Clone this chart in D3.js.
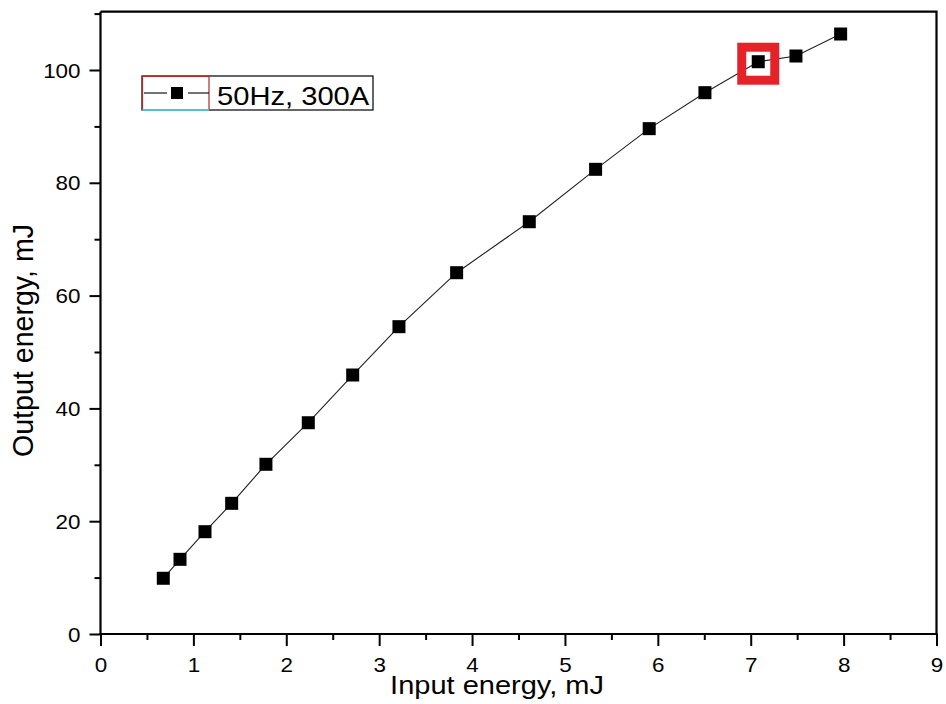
<!DOCTYPE html>
<html>
<head>
<meta charset="utf-8">
<script src="https://cdn.jsdelivr.net/npm/d3@7"></script>
<style>
  html, body { margin: 0; padding: 0; background: #fff; }
  svg { display: block; }
  text { font-family: Arial, "Liberation Sans", sans-serif; fill: #000; }
</style>
</head>
<body>
<svg id="chart" width="946" height="704"></svg>
<script>
// Output energy vs input energy (50 Hz, 300 A)
const inputEnergy  = [0.676, 0.856, 1.125, 1.412, 1.781, 2.237, 2.715, 3.213, 3.834, 4.616, 5.330, 5.907, 6.507, 7.081, 7.487, 7.968];
const outputEnergy = [9.88, 13.24, 18.14, 23.17, 30.09, 37.46, 45.92, 54.49, 64.06, 73.10, 82.39, 89.60, 95.98, 101.47, 102.48, 106.38];
const xMajorTicks = [0, 1, 2, 3, 4, 5, 6, 7, 8, 9];
const xMinorTicks = [0.5, 1.5, 2.5, 3.5, 4.5, 5.5, 6.5, 7.5, 8.5];
const yMajorTicks = [0, 20, 40, 60, 80, 100];
const yMinorTicks = [10, 30, 50, 70, 90, 110];
const seriesName = "50Hz, 300A";
const xTitle = "Input energy, mJ";
const yTitle = "Output energy, mJ";
const highlightIndex = 13;

const data = inputEnergy.map((v, i) => ({ x: v, y: outputEnergy[i] }));

const svg = d3.select("#chart");
const plotLeft = 100.5, plotRight = 936.5, plotBottom = 634, plotTop = 11.7;

const x = d3.scaleLinear().domain([0, 9]).range([plotLeft, plotRight]);
const y = d3.scaleLinear().domain([0, 100]).range([plotBottom, 70]);
const yMax = y.invert(plotTop);
y.domain([0, yMax]).range([plotBottom, plotTop]);

// frame (top and right edges)
svg.append("path")
  .attr("d", `M${plotLeft},${plotTop}H${plotRight}V${plotBottom}`)
  .attr("fill", "none").attr("stroke", "#000").attr("stroke-width", 2.2);

// bottom axis: minor then major ticks
const gxMin = svg.append("g").attr("transform", `translate(0,${plotBottom})`)
  .call(d3.axisBottom(x).tickValues(xMinorTicks).tickSize(6).tickFormat(""));
gxMin.select(".domain").remove();
gxMin.selectAll(".tick line").attr("stroke-width", 2);

const gxMaj = svg.append("g").attr("transform", `translate(0,${plotBottom})`)
  .call(d3.axisBottom(x).tickValues(xMajorTicks).tickSize(12).tickFormat(d3.format("d")));
gxMaj.select(".domain").remove();
gxMaj.selectAll(".tick line").attr("stroke-width", 2);
gxMaj.selectAll(".tick text")
  .attr("font-size", 20).attr("font-family", "Arial, 'Liberation Sans', sans-serif")
  .attr("dy", null).attr("y", 38).attr("x", 0)
  .attr("transform", "scale(1.12,1)");

// left axis: minor then major ticks
const gyMin = svg.append("g").attr("transform", `translate(${plotLeft},0)`)
  .call(d3.axisLeft(y).tickValues(yMinorTicks).tickSize(6).tickFormat(""));
gyMin.select(".domain").remove();
gyMin.selectAll(".tick line").attr("stroke-width", 2);

const gyMaj = svg.append("g").attr("transform", `translate(${plotLeft},0)`)
  .call(d3.axisLeft(y).tickValues(yMajorTicks).tickSize(11).tickFormat(d3.format("d")));
gyMaj.select(".domain").remove();
gyMaj.selectAll(".tick line").attr("stroke-width", 2);
gyMaj.selectAll(".tick text")
  .attr("font-size", 20).attr("font-family", "Arial, 'Liberation Sans', sans-serif")
  .attr("dy", "0.35em").attr("x", 0)
  .attr("transform", "translate(-20,0) scale(1.12,1)");

// axis lines
svg.append("line").attr("x1", plotLeft).attr("x2", plotLeft).attr("y1", plotTop).attr("y2", plotBottom + 1)
  .attr("stroke", "#000").attr("stroke-width", 2.2);
svg.append("line").attr("x1", plotLeft - 1).attr("x2", plotRight + 1).attr("y1", plotBottom).attr("y2", plotBottom)
  .attr("stroke", "#000").attr("stroke-width", 2.2);

// axis titles
svg.append("text")
  .attr("transform", "translate(497,694) scale(1.16,1)")
  .attr("text-anchor", "middle").attr("font-size", 25).text(xTitle);
svg.append("text")
  .attr("transform", "translate(33,340.5) rotate(-90)")
  .attr("text-anchor", "middle").attr("font-size", 28.6).text(yTitle);

// connecting line
svg.append("path").datum(data)
  .attr("d", d3.line().x(d => x(d.x)).y(d => y(d.y)))
  .attr("fill", "none").attr("stroke", "#222").attr("stroke-width", 1.1);

// markers
const ms = 13;
svg.append("g").selectAll("rect").data(data).join("rect")
  .attr("x", d => x(d.x) - ms / 2).attr("y", d => y(d.y) - ms / 2)
  .attr("width", ms).attr("height", ms).attr("fill", "#000");

// highlight box around one measurement
const hp = data[highlightIndex];
svg.append("rect")
  .attr("x", x(hp.x) - 16.5).attr("y", y(hp.y) - 14.5)
  .attr("width", 33).attr("height", 33)
  .attr("fill", "none").attr("stroke", "#e52228").attr("stroke-width", 9);

// legend
const lg = svg.append("g");
lg.append("rect").attr("x", 142).attr("y", 76).attr("width", 231).attr("height", 34)
  .attr("fill", "#fff").attr("stroke", "#000").attr("stroke-width", 1.2);
lg.append("path").attr("d", "M142.5,110V76.5H209V110")
  .attr("fill", "none").attr("stroke", "#b02a2a").attr("stroke-width", 1.2);
lg.append("line").attr("x1", 142.5).attr("x2", 209).attr("y1", 110).attr("y2", 110)
  .attr("stroke", "#4fe0e6").attr("stroke-width", 1.4);
lg.append("line").attr("x1", 144).attr("x2", 167).attr("y1", 93).attr("y2", 93)
  .attr("stroke", "#000").attr("stroke-width", 1.1);
lg.append("line").attr("x1", 188).attr("x2", 209).attr("y1", 93).attr("y2", 93)
  .attr("stroke", "#000").attr("stroke-width", 1.1);
lg.append("rect").attr("x", 171).attr("y", 87).attr("width", 12).attr("height", 12).attr("fill", "#000");
lg.append("text").attr("transform", "translate(217,105) scale(1.1,1)")
  .attr("font-size", 26.5).text(seriesName);
</script>
</body>
</html>
